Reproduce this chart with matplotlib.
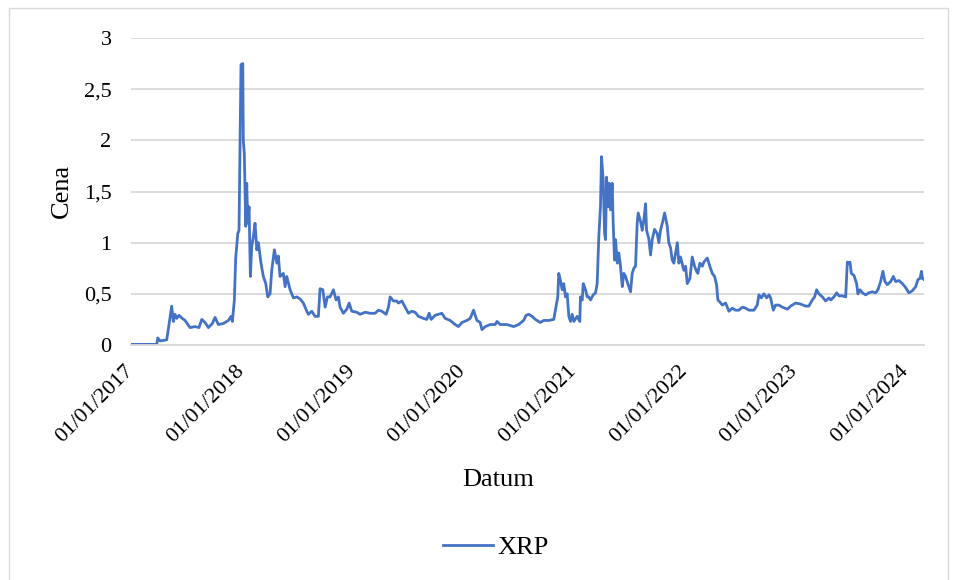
import pandas as pd
import matplotlib
matplotlib.use("Agg")
import matplotlib.pyplot as plt
import matplotlib.dates as mdates
from matplotlib.patches import Rectangle
from matplotlib.ticker import FuncFormatter, MultipleLocator

plt.rcParams['font.family'] = ['Liberation Serif', 'DejaVu Serif']

# position along the date axis, as fractional years
t_year = [
    2017.006, 2017.233, 2017.242, 2017.262, 2017.323, 2017.344, 2017.368, 2017.383,
    2017.398, 2017.414, 2017.434, 2017.464, 2017.489, 2017.534, 2017.579, 2017.615,
    2017.640, 2017.670, 2017.700, 2017.736, 2017.760, 2017.790, 2017.835, 2017.881,
    2017.905, 2017.917, 2017.935, 2017.947, 2017.966, 2017.977, 2017.986, 2017.995,
    2018.011, 2018.016, 2018.025, 2018.038, 2018.047, 2018.056, 2018.068, 2018.080,
    2018.092, 2018.107, 2018.122, 2018.138, 2018.152, 2018.176, 2018.197, 2018.219,
    2018.237, 2018.258, 2018.273, 2018.297, 2018.319, 2018.333, 2018.348, 2018.378,
    2018.394, 2018.409, 2018.439, 2018.469, 2018.500, 2018.529, 2018.559, 2018.590,
    2018.605, 2018.635, 2018.665, 2018.695, 2018.710, 2018.735, 2018.756, 2018.777,
    2018.801, 2018.831, 2018.855, 2018.876, 2018.891, 2018.921, 2018.952, 2018.973,
    2018.997, 2019.043, 2019.072, 2019.118, 2019.163, 2019.208, 2019.238, 2019.269,
    2019.308, 2019.329, 2019.344, 2019.374, 2019.404, 2019.419, 2019.450, 2019.480,
    2019.510, 2019.540, 2019.570, 2019.600, 2019.645, 2019.676, 2019.697, 2019.715,
    2019.751, 2019.812, 2019.842, 2019.887, 2019.932, 2019.962, 2019.993, 2020.038,
    2020.068, 2020.098, 2020.129, 2020.158, 2020.174, 2020.204, 2020.249, 2020.294,
    2020.310, 2020.339, 2020.400, 2020.460, 2020.505, 2020.550, 2020.572, 2020.596,
    2020.626, 2020.656, 2020.701, 2020.731, 2020.776, 2020.822, 2020.858, 2020.867,
    2020.882, 2020.898, 2020.912, 2020.928, 2020.943, 2020.958, 2020.973, 2020.988,
    2021.003, 2021.033, 2021.057, 2021.063, 2021.079, 2021.088, 2021.109, 2021.124,
    2021.138, 2021.154, 2021.178, 2021.199, 2021.214, 2021.229, 2021.244, 2021.253,
    2021.269, 2021.281, 2021.290, 2021.299, 2021.314, 2021.323, 2021.335, 2021.350,
    2021.359, 2021.371, 2021.380, 2021.396, 2021.410, 2021.425, 2021.441, 2021.455,
    2021.471, 2021.491, 2021.516, 2021.531, 2021.546, 2021.561, 2021.576, 2021.585,
    2021.606, 2021.622, 2021.636, 2021.652, 2021.661, 2021.681, 2021.697, 2021.712,
    2021.733, 2021.757, 2021.772, 2021.787, 2021.808, 2021.824, 2021.848, 2021.862,
    2021.878, 2021.893, 2021.908, 2021.923, 2021.939, 2021.953, 2021.968, 2021.998,
    2022.014, 2022.029, 2022.053, 2022.074, 2022.095, 2022.113, 2022.125, 2022.143,
    2022.165, 2022.179, 2022.210, 2022.233, 2022.255, 2022.276, 2022.294, 2022.306,
    2022.324, 2022.346, 2022.376, 2022.406, 2022.436, 2022.466, 2022.496, 2022.527,
    2022.557, 2022.587, 2022.632, 2022.662, 2022.677, 2022.699, 2022.722, 2022.747,
    2022.768, 2022.783, 2022.807, 2022.828, 2022.858, 2022.889, 2022.934, 2022.964,
    2023.009, 2023.054, 2023.100, 2023.129, 2023.160, 2023.181, 2023.199, 2023.220,
    2023.251, 2023.281, 2023.311, 2023.327, 2023.356, 2023.380, 2023.401, 2023.432,
    2023.462, 2023.477, 2023.492, 2023.501, 2023.513, 2023.537, 2023.561, 2023.573,
    2023.591, 2023.613, 2023.643, 2023.672, 2023.703, 2023.733, 2023.754, 2023.778,
    2023.799, 2023.817, 2023.839, 2023.869, 2023.893, 2023.914, 2023.944, 2023.975,
    2024.005, 2024.034, 2024.065, 2024.095, 2024.116, 2024.134, 2024.147, 2024.156,
    2024.170,
]

price = [
    0.006, 0.006, 0.07, 0.04, 0.05, 0.20, 0.38, 0.23,
    0.30, 0.26, 0.29, 0.26, 0.24, 0.17, 0.18, 0.17,
    0.25, 0.22, 0.17, 0.21, 0.27, 0.20, 0.21, 0.24,
    0.28, 0.23, 0.44, 0.85, 1.09, 1.12, 1.97, 2.74,
    2.75, 2.00, 1.87, 1.16, 1.58, 1.19, 1.35, 0.67,
    0.96, 1.06, 1.19, 0.93, 1.00, 0.80, 0.67, 0.60,
    0.47, 0.50, 0.73, 0.93, 0.80, 0.87, 0.67, 0.70,
    0.57, 0.67, 0.54, 0.46, 0.47, 0.45, 0.41, 0.33,
    0.30, 0.33, 0.28, 0.28, 0.55, 0.54, 0.37, 0.47,
    0.47, 0.54, 0.44, 0.47, 0.37, 0.31, 0.35, 0.41,
    0.33, 0.32, 0.30, 0.32, 0.31, 0.31, 0.34, 0.33,
    0.30, 0.37, 0.47, 0.43, 0.43, 0.41, 0.43, 0.37,
    0.31, 0.33, 0.32, 0.28, 0.26, 0.25, 0.31, 0.25,
    0.29, 0.31, 0.26, 0.24, 0.20, 0.18, 0.22, 0.24,
    0.26, 0.34, 0.24, 0.22, 0.15, 0.18, 0.20, 0.20,
    0.23, 0.20, 0.20, 0.18, 0.20, 0.24, 0.29, 0.30,
    0.28, 0.25, 0.22, 0.24, 0.24, 0.25, 0.47, 0.70,
    0.63, 0.54, 0.60, 0.47, 0.50, 0.28, 0.23, 0.30,
    0.23, 0.28, 0.23, 0.47, 0.44, 0.60, 0.54, 0.47,
    0.47, 0.44, 0.49, 0.51, 0.60, 1.06, 1.35, 1.84,
    1.61, 1.09, 1.03, 1.64, 1.35, 1.58, 1.32, 1.58,
    1.19, 0.83, 1.03, 0.80, 0.90, 0.77, 0.57, 0.70,
    0.67, 0.60, 0.52, 0.70, 0.75, 0.77, 1.19, 1.29,
    1.21, 1.12, 1.22, 1.38, 1.12, 1.04, 0.88, 1.03,
    1.13, 1.09, 1.00, 1.12, 1.21, 1.29, 1.16, 1.00,
    0.95, 0.83, 0.80, 0.90, 1.00, 0.80, 0.86, 0.73,
    0.77, 0.60, 0.65, 0.86, 0.77, 0.72, 0.70, 0.80,
    0.77, 0.81, 0.85, 0.77, 0.70, 0.67, 0.59, 0.44,
    0.42, 0.39, 0.41, 0.33, 0.36, 0.34, 0.34, 0.37,
    0.36, 0.34, 0.34, 0.39, 0.49, 0.46, 0.50, 0.46,
    0.49, 0.46, 0.34, 0.39, 0.39, 0.37, 0.35, 0.38,
    0.41, 0.40, 0.38, 0.38, 0.44, 0.47, 0.54, 0.50,
    0.47, 0.43, 0.46, 0.44, 0.47, 0.51, 0.48, 0.48,
    0.47, 0.81, 0.80, 0.81, 0.70, 0.68, 0.60, 0.50,
    0.54, 0.51, 0.49, 0.51, 0.52, 0.51, 0.54, 0.62,
    0.72, 0.62, 0.59, 0.62, 0.67, 0.62, 0.63, 0.60,
    0.56, 0.51, 0.53, 0.57, 0.64, 0.65, 0.72, 0.65,
    0.64,
]

year_ticks = list(range(2017, 2025))


def to_date(y):
    yr = int(y)
    start = pd.Timestamp(yr, 1, 1)
    n_days = (pd.Timestamp(yr + 1, 1, 1) - start).days
    return start + pd.Timedelta(days=(y - yr) * n_days)


dates = [to_date(y) for y in t_year]

W, H = 957, 580
fig = plt.figure(figsize=(W / 100, H / 100), dpi=100)
ax = fig.add_axes([131 / W, 1 - 345 / H, (924 - 131) / W, (345 - 38) / H])

line, = ax.plot(dates, price, color='#4472C4', lw=2.0, label='XRP')

ax.set_ylim(0, 3)
ax.yaxis.set_major_locator(MultipleLocator(0.5))
ax.yaxis.set_major_formatter(FuncFormatter(lambda v, _: f"{v:g}".replace('.', ',')))
ax.set_xlim(pd.Timestamp(2017, 1, 1), dates[-1])
ax.set_xticks([pd.Timestamp(y, 1, 1) for y in year_ticks])
ax.xaxis.set_major_formatter(mdates.DateFormatter('%d/%m/%Y'))

ax.yaxis.grid(True, color='#d9d9d9', lw=1.3)
ax.set_axisbelow(True)
for s in ['top', 'right', 'left']:
    ax.spines[s].set_visible(False)
ax.spines['bottom'].set_color('#d9d9d9')
ax.spines['bottom'].set_linewidth(1.3)

ax.tick_params(axis='y', length=0, pad=14, labelsize=16)
ax.tick_params(axis='x', length=0, pad=17, labelsize=16)
for lbl in ax.get_xticklabels():
    lbl.set_rotation(45)
    lbl.set_ha('right')
    lbl.set_va('center')
    lbl.set_rotation_mode('anchor')

fig.text(62 / W, 1 - 191 / H, 'Cena', rotation=90, ha='center', va='center', fontsize=19)
fig.text(498 / W, 1 - 480 / H, 'Datum', ha='center', va='center', fontsize=19)

fig.legend(handles=[line], loc='center', bbox_to_anchor=(496 / W, 1 - 547 / H),
           frameon=False, fontsize=19, handlelength=1.9, handletextpad=0.15,
           borderpad=0)

# light chart border like the spreadsheet chart area
fig.patches.append(Rectangle((9 / W, -0.02), (948 - 9) / W, (H - 8) / H + 0.02,
                             transform=fig.transFigure, fill=False,
                             ec='#d9d9d9', lw=1))

fig.savefig('out.png', dpi=100)
